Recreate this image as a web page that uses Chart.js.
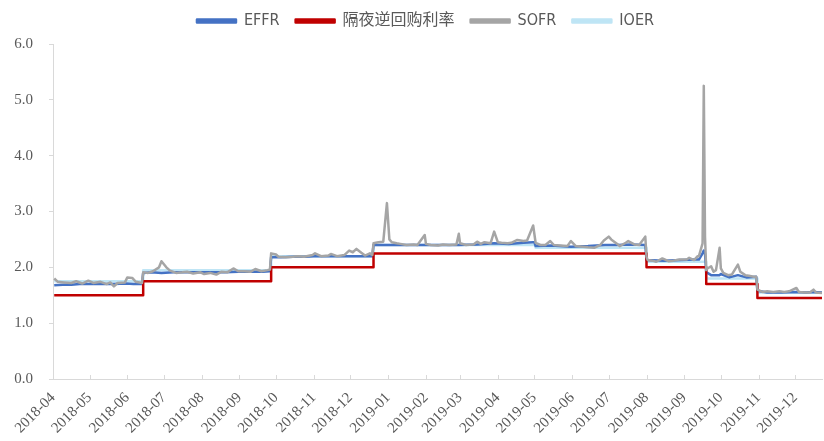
<!DOCTYPE html>
<html>
<head>
<meta charset="utf-8">
<script src="https://cdn.jsdelivr.net/npm/chart.js@4/dist/chart.umd.min.js"></script>
<style>
  html, body { margin: 0; padding: 0; background: #fff; }
  #wrap { width: 824px; height: 441px; }
</style>
</head>
<body>
<div id="wrap"><canvas id="myChart" width="824" height="441"></canvas></div>
<script>
// month labels on the x axis
let monthLabels = ['2018-04', '2018-05', '2018-06', '2018-07', '2018-08', '2018-09', '2018-10', '2018-11', '2018-12',
    '2019-01', '2019-02', '2019-03', '2019-04', '2019-05', '2019-06', '2019-07', '2019-08', '2019-09', '2019-10', '2019-11', '2019-12'];
let yTicks = [0, 1, 2, 3, 4, 5, 6];
let seriesNames = ['EFFR', '隔夜逆回购利率', 'SOFR', 'IOER'];

// EFFR
let effrDates = ['2018-04-02', '2018-04-09', '2018-04-16', '2018-04-23', '2018-04-30', '2018-05-07', '2018-05-14', '2018-05-21', '2018-05-31', '2018-06-06', '2018-06-13',
    '2018-06-14', '2018-06-21', '2018-06-29', '2018-07-09', '2018-07-20', '2018-07-31', '2018-08-10', '2018-08-20', '2018-08-31', '2018-09-10', '2018-09-20', '2018-09-26',
    '2018-09-27', '2018-10-05', '2018-10-15', '2018-10-25', '2018-11-01', '2018-11-15', '2018-11-30', '2018-12-10', '2018-12-19',
    '2018-12-20', '2018-12-31', '2019-01-15', '2019-01-31', '2019-02-15', '2019-02-28', '2019-03-15', '2019-03-29', '2019-04-10', '2019-04-22', '2019-04-30', '2019-05-01',
    '2019-05-02', '2019-05-15', '2019-05-31', '2019-06-14', '2019-06-28', '2019-07-08', '2019-07-19', '2019-07-31',
    '2019-08-01', '2019-08-15', '2019-08-30', '2019-09-10', '2019-09-13', '2019-09-16', '2019-09-17', '2019-09-18',
    '2019-09-19', '2019-09-20', '2019-09-23', '2019-09-30', '2019-10-01', '2019-10-08', '2019-10-15', '2019-10-22', '2019-10-30',
    '2019-10-31', '2019-11-08', '2019-11-20', '2019-12-02', '2019-12-10', '2019-12-16', '2019-12-23'];
let effrValues = [1.68, 1.69, 1.69, 1.70, 1.70, 1.70, 1.70, 1.70, 1.71, 1.70, 1.70,
    1.90, 1.91, 1.90, 1.91, 1.91, 1.91, 1.91, 1.91, 1.92, 1.92, 1.92, 1.93,
    2.18, 2.18, 2.19, 2.19, 2.20, 2.20, 2.20, 2.20, 2.20,
    2.40, 2.40, 2.40, 2.40, 2.40, 2.40, 2.41, 2.43, 2.42, 2.44, 2.45, 2.45,
    2.38, 2.39, 2.37, 2.38, 2.40, 2.40, 2.41, 2.40,
    2.13, 2.12, 2.13, 2.14, 2.14, 2.25, 2.30, 2.25,
    1.90, 1.90, 1.86, 1.86, 1.88, 1.82, 1.86, 1.82, 1.83,
    1.58, 1.55, 1.55, 1.56, 1.55, 1.56, 1.55];

// overnight reverse repo rate (step changes)
let rrpDates = ['2018-04-02', '2018-06-14', '2018-09-27', '2018-12-20', '2019-08-01', '2019-09-19', '2019-10-31', '2019-12-23'];
let rrpValues = [1.50, 1.75, 2.00, 2.25, 2.00, 1.70, 1.45, 1.45];

// SOFR
let sofrDates = ['2018-04-02', '2018-04-05', '2018-04-10', '2018-04-16', '2018-04-20', '2018-04-25', '2018-04-30', '2018-05-04', '2018-05-10', '2018-05-15', '2018-05-18',
    '2018-05-21', '2018-05-24', '2018-05-30', '2018-06-01', '2018-06-05', '2018-06-08', '2018-06-13',
    '2018-06-14', '2018-06-18', '2018-06-22', '2018-06-27', '2018-06-29', '2018-07-03', '2018-07-06', '2018-07-11', '2018-07-16', '2018-07-20', '2018-07-25', '2018-07-31',
    '2018-08-03', '2018-08-08', '2018-08-13', '2018-08-17', '2018-08-22', '2018-08-27', '2018-08-31', '2018-09-05', '2018-09-10', '2018-09-14', '2018-09-19', '2018-09-24', '2018-09-26',
    '2018-09-27', '2018-10-01', '2018-10-03', '2018-10-09', '2018-10-15', '2018-10-19', '2018-10-24', '2018-10-31', '2018-11-02', '2018-11-07', '2018-11-13', '2018-11-15',
    '2018-11-20', '2018-11-26', '2018-11-30', '2018-12-03', '2018-12-06', '2018-12-10', '2018-12-13', '2018-12-17', '2018-12-19',
    '2018-12-20', '2018-12-24', '2018-12-28', '2018-12-31', '2019-01-02', '2019-01-04', '2019-01-08', '2019-01-11', '2019-01-16', '2019-01-22', '2019-01-25', '2019-01-31',
    '2019-02-01', '2019-02-05', '2019-02-11', '2019-02-15', '2019-02-20', '2019-02-26', '2019-02-28', '2019-03-01', '2019-03-06', '2019-03-12', '2019-03-15', '2019-03-18',
    '2019-03-21', '2019-03-26', '2019-03-29', '2019-04-01', '2019-04-04', '2019-04-09', '2019-04-12', '2019-04-17', '2019-04-22', '2019-04-25', '2019-04-30',
    '2019-05-02', '2019-05-06', '2019-05-10', '2019-05-14', '2019-05-17', '2019-05-22', '2019-05-28', '2019-05-31', '2019-06-04', '2019-06-10', '2019-06-14', '2019-06-19',
    '2019-06-24', '2019-06-27', '2019-07-01', '2019-07-03', '2019-07-08', '2019-07-10', '2019-07-15', '2019-07-17', '2019-07-22', '2019-07-26', '2019-07-31',
    '2019-08-01', '2019-08-02', '2019-08-06', '2019-08-09', '2019-08-14', '2019-08-19', '2019-08-23', '2019-08-28', '2019-09-03', '2019-09-05', '2019-09-09', '2019-09-12',
    '2019-09-13', '2019-09-16', '2019-09-17', '2019-09-18', '2019-09-19', '2019-09-20', '2019-09-23', '2019-09-25', '2019-09-27', '2019-09-30',
    '2019-10-01', '2019-10-03', '2019-10-07', '2019-10-10', '2019-10-15', '2019-10-17', '2019-10-21', '2019-10-24', '2019-10-28', '2019-10-30',
    '2019-10-31', '2019-11-04', '2019-11-08', '2019-11-13', '2019-11-18', '2019-11-22', '2019-11-26', '2019-11-29', '2019-12-02', '2019-12-04', '2019-12-09',
    '2019-12-13', '2019-12-16', '2019-12-18', '2019-12-23'];
let sofrValues = [1.80, 1.74, 1.73, 1.72, 1.75, 1.71, 1.76, 1.72, 1.74, 1.70, 1.73,
    1.66, 1.72, 1.73, 1.82, 1.81, 1.74, 1.72,
    1.91, 1.90, 1.93, 2.00, 2.11, 2.00, 1.94, 1.90, 1.91, 1.92, 1.89, 1.91,
    1.88, 1.90, 1.87, 1.92, 1.91, 1.98, 1.93, 1.93, 1.92, 1.97, 1.93, 1.95, 1.96,
    2.25, 2.23, 2.19, 2.18, 2.19, 2.20, 2.19, 2.22, 2.25, 2.20, 2.21, 2.24,
    2.20, 2.22, 2.30, 2.27, 2.33, 2.26, 2.21, 2.25, 2.22,
    2.43, 2.45, 2.46, 3.15, 2.50, 2.45, 2.43, 2.42, 2.40, 2.41, 2.40, 2.58,
    2.42, 2.40, 2.39, 2.41, 2.40, 2.41, 2.60, 2.43, 2.40, 2.41, 2.46, 2.42,
    2.45, 2.43, 2.64, 2.45, 2.44, 2.43, 2.44, 2.49, 2.47, 2.48, 2.75,
    2.44, 2.40, 2.40, 2.47, 2.40, 2.39, 2.38, 2.47, 2.38, 2.37, 2.36, 2.35,
    2.40, 2.48, 2.55, 2.50, 2.42, 2.38, 2.44, 2.47, 2.41, 2.40, 2.55,
    2.19, 2.13, 2.12, 2.10, 2.16, 2.11, 2.12, 2.14, 2.14, 2.17, 2.13, 2.20,
    2.20, 2.43, 5.25, 2.55, 1.95, 1.98, 2.02, 1.92, 1.95, 2.35,
    1.98, 1.90, 1.86, 1.87, 2.05, 1.92, 1.86, 1.85, 1.83, 1.83,
    1.60, 1.56, 1.57, 1.56, 1.57, 1.56, 1.57, 1.60, 1.63, 1.56, 1.55,
    1.55, 1.60, 1.55, 1.54];

// IOER (step changes)
let ioerDates = ['2018-04-02', '2018-06-14', '2018-09-27', '2018-12-20', '2019-05-02', '2019-08-01', '2019-09-19', '2019-10-31', '2019-12-23'];
let ioerValues = [1.75, 1.95, 2.20, 2.40, 2.35, 2.10, 1.80, 1.55, 1.55];

// days since 2018-04-01 for the linear x axis
function dayIndex(s) {
    let p = s.split('-').map(Number);
    return (Date.UTC(p[0], p[1] - 1, p[2] || 1) - Date.UTC(2018, 3, 1)) / 86400000;
}
function points(dates, values) {
    let out = [];
    for (let i = 0; i < dates.length; i++) {
        out.push({ x: dayIndex(dates[i]), y: values[i] });
    }
    return out;
}

let monthDays = monthLabels.map(m => dayIndex(m + '-01'));
let lastDay = dayIndex(sofrDates[sofrDates.length - 1]);

let grey = '#595959';
let axisColor = '#d9d9d9';

// small tick marks on the x axis pointing up
let xTickMarks = {
    id: 'xTickMarks',
    afterDraw(chart) {
        let ctx = chart.ctx;
        let xs = chart.scales.x;
        ctx.save();
        ctx.strokeStyle = axisColor;
        ctx.lineWidth = 1;
        ctx.beginPath();
        xs.ticks.forEach(t => {
            let px = Math.round(xs.getPixelForValue(t.value)) + 0.5;
            ctx.moveTo(px, xs.top);
            ctx.lineTo(px, xs.top - 4);
        });
        ctx.stroke();
        ctx.restore();
    }
};

// nudge the legend a bit right and up, like the original
let legendNudge = {
    id: 'legendNudge',
    afterLayout(chart) {
        if (chart.legend) {
            chart.legend.left += 29;
            chart.legend.top -= 5;
        }
    }
};

let grafica = document.getElementById('myChart');

new Chart(grafica, {
    type: 'line',
    data: {
        datasets: [
            {
                label: seriesNames[0],
                data: points(effrDates, effrValues),
                borderColor: '#4472C4',
                backgroundColor: '#4472C4',
                borderWidth: 2.5,
                order: 2
            },
            {
                label: seriesNames[1],
                data: points(rrpDates, rrpValues),
                borderColor: '#C00000',
                backgroundColor: '#C00000',
                borderWidth: 2.5,
                stepped: true,
                order: 1
            },
            {
                label: seriesNames[2],
                data: points(sofrDates, sofrValues),
                borderColor: '#A5A5A5',
                backgroundColor: '#A5A5A5',
                borderWidth: 2.5,
                order: 0
            },
            {
                label: seriesNames[3],
                data: points(ioerDates, ioerValues),
                borderColor: '#BFE5F5',
                backgroundColor: '#BFE5F5',
                borderWidth: 2.5,
                stepped: true,
                order: 3
            }
        ]
    },
    options: {
        responsive: false,
        maintainAspectRatio: false,
        animation: false,
        layout: { padding: { left: 0, right: 2, top: 2, bottom: 0 } },
        elements: {
            point: { radius: 0, hoverRadius: 0 },
            line: { tension: 0, borderJoinStyle: 'round' }
        },
        plugins: {
            tooltip: { enabled: false },
            legend: {
                position: 'top',
                labels: {
                    boxWidth: 39,
                    boxHeight: 3,
                    padding: 16,
                    color: grey,
                    sort: (a, b) => a.datasetIndex - b.datasetIndex,
                    font: { family: "'Liberation Sans Narrow', 'DejaVu Sans Condensed', 'Noto Sans CJK SC', sans-serif", size: 16 }
                }
            }
        },
        scales: {
            x: {
                type: 'linear',
                min: 0,
                max: lastDay,
                afterBuildTicks: scale => {
                    scale.ticks = monthDays.map(v => ({ value: v }));
                },
                afterFit: scale => { scale.height = 62; },
                grid: { display: false },
                border: { color: axisColor, width: 1 },
                ticks: {
                    autoSkip: false,
                    minRotation: 45,
                    maxRotation: 45,
                    padding: 2,
                    color: grey,
                    font: { family: "'Liberation Serif', 'Times New Roman', serif", size: 15 },
                    callback: value => {
                        let i = monthDays.indexOf(value);
                        return i >= 0 ? monthLabels[i] : '';
                    }
                }
            },
            y: {
                min: yTicks[0],
                max: yTicks[yTicks.length - 1],
                afterBuildTicks: scale => {
                    scale.ticks = yTicks.map(v => ({ value: v }));
                },
                afterFit: scale => { scale.width = 53; },
                grid: { drawOnChartArea: false, tickLength: 4, color: axisColor },
                border: { color: axisColor, width: 1 },
                ticks: {
                    padding: 16,
                    color: grey,
                    font: { family: "'Liberation Serif', 'Times New Roman', serif", size: 15 },
                    callback: value => value.toFixed(1)
                }
            }
        }
    },
    plugins: [xTickMarks, legendNudge]
});
</script>
</body>
</html>
